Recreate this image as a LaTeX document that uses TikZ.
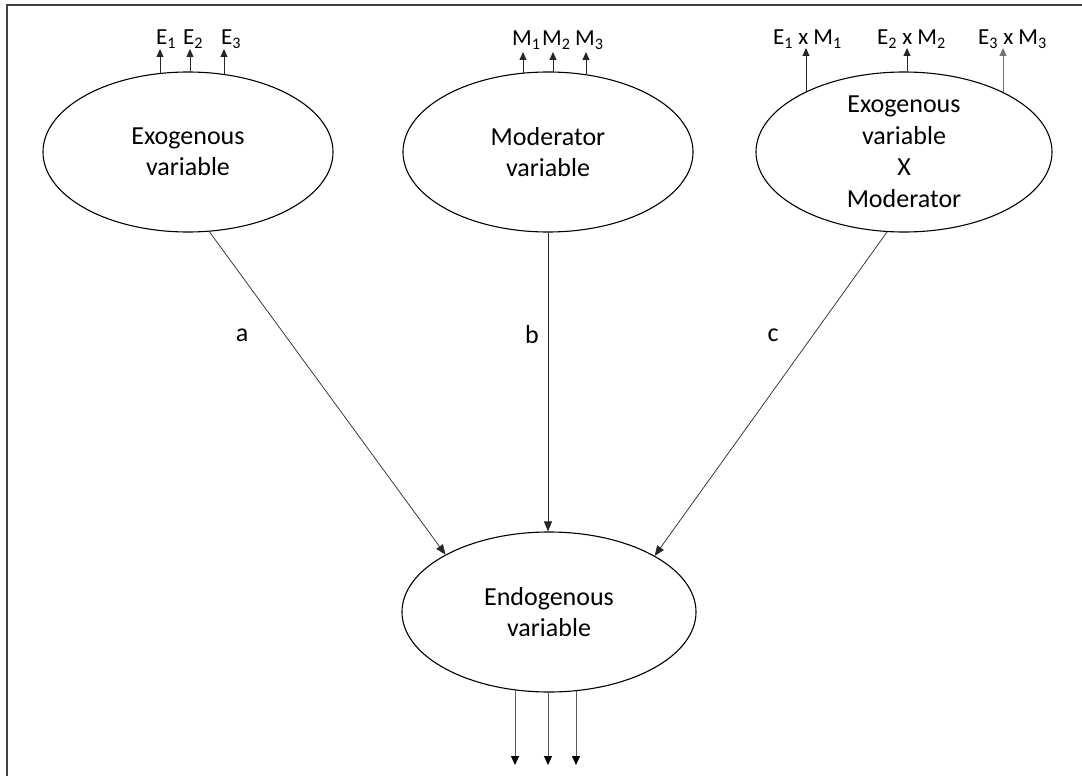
\documentclass[tikz,border=0pt]{standalone}
\usepackage{fontspec}
\setmainfont{Carlito}
\usetikzlibrary{arrows.meta,shapes.geometric}
\begin{document}
\begin{tikzpicture}[x=1pt,y=-1pt,
  latent/.style={draw, ellipse, line width=1.1pt, minimum width=290pt, minimum height=160pt,
    inner sep=0pt, align=center, font=\fontsize{26}{31.5}\selectfont},
  pathline/.style={draw=black!85, line width=0.7pt, -{Triangle[length=10pt,width=8pt]}},
  indline/.style={draw=black!85, line width=0.9pt, -{Triangle[length=8pt,width=7pt]}},
  outline/.style={draw=black!65, line width=0.9pt, -{Triangle[length=9pt,width=8pt,color=black]}},
  lbl/.style={anchor=base west, inner sep=0pt, font=\fontsize{23}{27}\selectfont},
  coef/.style={inner sep=0pt, font=\fontsize{26}{30}\selectfont}
]
\useasboundingbox (0,0) rectangle (1082,776);

% frame (top and left edges)
\draw[line width=1.7pt, black!75] (7,776) -- (7,5) -- (1082,5);

% latent variables
\node[latent] (exo) at (188,152) {Exogenous\\variable};
\node[latent] (mod) at (548,152) {Moderator\\variable};
\node[latent, minimum width=296pt] (int) at (904,152) {Exogenous\\variable\\X\\Moderator};
\node[latent, minimum width=294pt] (endo) at (549,612) {Endogenous\\variable};

% indicator labels
\node[lbl] (tE1) at (156,45) {E\textsubscript{1}};
\node[lbl] (tE2) at (183,45) {E\textsubscript{2}};
\node[lbl] (tE3) at (221,45) {E\textsubscript{3}};
\node[lbl] (tM1) at (512,46) {M\textsubscript{1}};
\node[lbl] (tM2) at (542,46) {M\textsubscript{2}};
\node[lbl] (tM3) at (575,46) {M\textsubscript{3}};
\node[lbl] (tI1) at (773,45) {E\textsubscript{1} x M\textsubscript{1}};
\node[lbl] (tI2) at (877,45) {E\textsubscript{2} x M\textsubscript{2}};
\node[lbl] (tI3) at (978,45) {E\textsubscript{3} x M\textsubscript{3}};

% arrow tips below the labels
\coordinate (pE1) at (160,49);
\coordinate (pE2) at (190,49);
\coordinate (pE3) at (224,49);
\coordinate (pM1) at (523,52);
\coordinate (pM2) at (553,52);
\coordinate (pM3) at (586,52);
\coordinate (pI1) at (806,48);
\coordinate (pI2) at (907,48);
\coordinate (pI3) at (1003,48);

% indicator arrows
\draw[indline] (exo.109.6 -| pE1) -- (pE1);
\draw[indline] (exo.88.6 -| pE2) -- (pE2);
\draw[indline] (exo.65.1 -| pE3) -- (pE3);
\draw[indline] (mod.107.6 -| pM1) -- (pM1);
\draw[indline] (mod.86.4 -| pM2) -- (pM2);
\draw[indline] (mod.63.8 -| pM3) -- (pM3);
\draw[indline] (int.148.6 -| pI1) -- (pI1);
\draw[indline] (int.88 -| pI2) -- (pI2);
\draw[indline, draw=black!55] (int.31 -| pI3) -- (pI3);

% structural paths
\draw[pathline] (exo.-75.4) -- (endo.151.7);
\draw[pathline] (mod.south) -- (mod.south |- endo.north);
\draw[pathline] (int.-102) -- (endo.28.6);
\node[coef] (la) at (242,335) {a};
\node[coef] (lb) at (532,335) {b};
\node[coef] (lc) at (773,335) {c};

% outgoing arrows of the endogenous variable
\coordinate (o1) at (515,765);
\coordinate (o2) at (548,765);
\coordinate (o3) at (576,765);
\draw[outline] (endo.246.4 -| o1) -- (o1);
\draw[outline] (endo.-90.5 -| o2) -- (o2);
\draw[outline] (endo.-71 -| o3) -- (o3);
\end{tikzpicture}
\end{document}
